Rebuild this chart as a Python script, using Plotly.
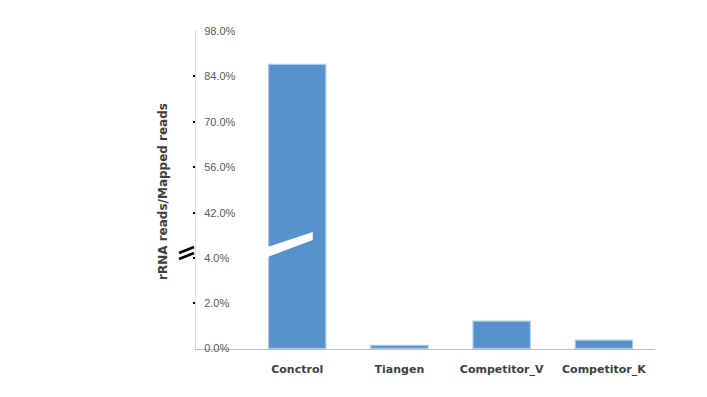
import plotly.graph_objects as go

categories = ["Conctrol", "Tiangen", "Competitor_V", "Competitor_K"]
values = [87.7, 0.13, 1.2, 0.36]
low_ticks = [0, 2, 4]
low_labels = ["0.0%", "2.0%", "4.0%"]
high_ticks = [42, 56, 70, 84, 98]
high_labels = ["42.0%", "56.0%", "70.0%", "84.0%", "98.0%"]

OFF = 8  # page body margin
W, H = 707, 397
# desired plot area in window pixels: x 195..655, y 31..349
PL, PR, PT, PB = 195, 655, 30, 349
L, T = PL - OFF, PT - OFF
R, B = W - (PR - OFF), H - (PB - OFF)
split = 0.326  # fraction of plot height given to the lower axis

bar_color = "#5592cb"
edge_color = "#a9c7e8"

fig = go.Figure()
for ya in ["y", "y2"]:
    fig.add_trace(go.Bar(
        x=categories, y=values, yaxis=ya, xaxis="x" if ya == "y" else "x2",
        marker=dict(color=bar_color, line=dict(color=edge_color, width=1.2)),
        width=0.56, showlegend=False, hoverinfo="x+y",
    ))

tickfont = dict(family="Liberation Sans, Arial, sans-serif", size=11, color="#595959")

ycommon = dict(
    anchor="free", position=0, side="right", tickfont=tickfont,
    ticks="inside", ticklen=2, tickwidth=2, tickcolor="#000000",
    showline=True, linecolor="#d9d9d9", linewidth=1,
    showgrid=False, zeroline=False, ticklabelstandoff=6,
)

fig.update_layout(
    width=W, height=H,
    margin=dict(l=L, r=R, t=T, b=B),
    paper_bgcolor="white", plot_bgcolor="white",
    xaxis=dict(
        domain=[0, 1], range=[-1.0, 3.5], anchor="y",
        showline=True, linecolor="#bfbfbf", linewidth=1,
        showgrid=False, ticks="", zeroline=False,
        tickfont=dict(family="DejaVu Sans, sans-serif", size=11, color="#404040", weight="bold"),
        ticklabelstandoff=10,
    ),
    xaxis2=dict(
        domain=[0, 1], range=[-1.0, 3.5], anchor="y2", matches="x",
        showticklabels=False, showline=False, showgrid=False, zeroline=False, ticks="",
    ),
    yaxis=dict(
        domain=[0, split], range=[-0.03, 4.571],
        tickvals=low_ticks, ticktext=low_labels, **ycommon,
    ),
    yaxis2=dict(
        domain=[split, 1], range=[32.15, 98.3],
        tickvals=high_ticks, ticktext=high_labels, **ycommon,
    ),
)

def py(pix):
    return (PB - pix) / (PB - PT)

def px(pix):
    return (pix - PL) / (PR - PL)

# white slash across the control bar (break indicator)
fig.add_shape(
    type="path", xref="x", yref="paper",
    path=f"M -0.29,{py(257)} L -0.29,{py(247)} L 0.152,{py(232)} L 0.152,{py(240)} Z",
    fillcolor="white", line=dict(width=0), layer="above",
)

# axis break marks
for y0, y1 in [(259, 253), (253, 247)]:
    fig.add_shape(
        type="line", xref="paper", yref="paper",
        x0=px(179), y0=py(y0), x1=px(194), y1=py(y1),
        line=dict(color="black", width=2.5), layer="above",
    )

fig.add_annotation(
    text="<b>rRNA reads/Mapped reads</b>", xref="paper", yref="paper",
    x=px(163), y=py(192), textangle=-90, showarrow=False,
    font=dict(family="DejaVu Sans, sans-serif", size=12, color="#404040"),
    xanchor="center", yanchor="middle",
)

fig.write_html("out.html")
